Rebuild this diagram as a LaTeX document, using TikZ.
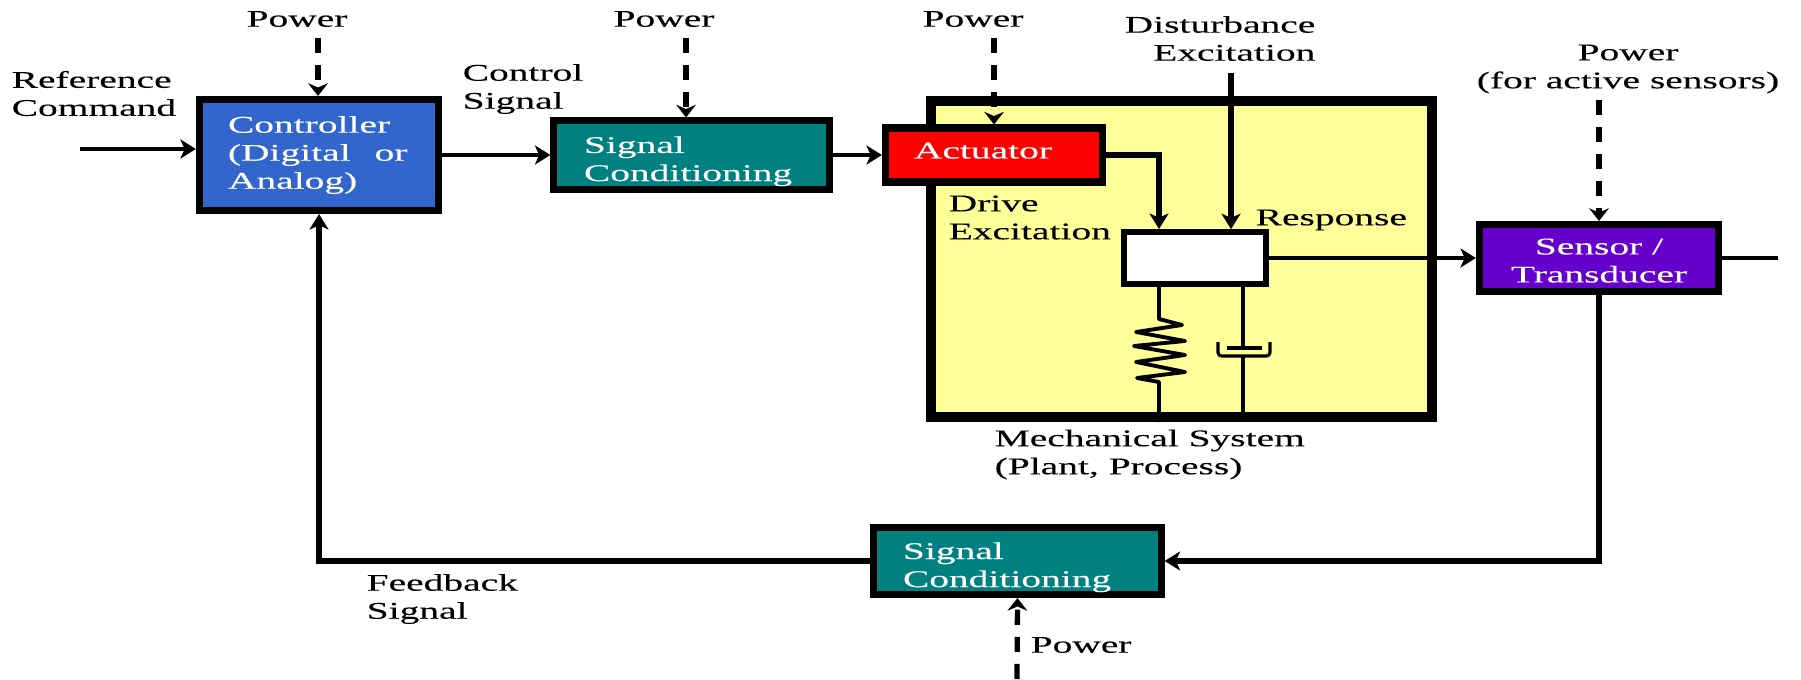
\documentclass[tikz,border=0pt]{standalone}
\usepackage{fontspec}
\setmainfont[FakeStretch=1.65,FakeBold=0.15]{Liberation Serif}
\usetikzlibrary{arrows.meta}
\tikzset{
  lbl/.style={inner sep=0pt,align=left,font=\fontsize{6.8}{7.97}\selectfont},
  block/.style={draw,line width=2pt,rectangle,text=white,align=left,inner sep=0pt,font=\fontsize{6.8}{7.97}\selectfont},
  sig/.style={line width=1.1pt,-{Stealth[length=4.4pt,width=5.4pt,inset=1.2pt]}},
  power/.style={line width=1.5pt,dash pattern=on 4.3pt off 3.4pt,-{Stealth[length=3.6pt,width=5.6pt,inset=1.2pt]}},
}
\definecolor{ctrlblue}{HTML}{3366CC}
\definecolor{teal}{HTML}{008080}
\definecolor{plantyellow}{HTML}{FFFF99}
\definecolor{sensorpurple}{HTML}{6600CC}
\begin{document}
\begin{tikzpicture}[x=0.01cm,y=-0.01cm]
    \useasboundingbox (0,0) rectangle (1801,679);

    \node[draw,line width=2.85pt,rectangle,fill=plantyellow,minimum width=5.01cm,minimum height=3.16cm,inner sep=0pt] (plant) at (1181.5,259) {};
    \node[block,fill=ctrlblue,minimum width=2.39cm,minimum height=1.11cm,text width=1.82cm] (controller) at (319,155) {Controller\\(Digital~~~or\\Analog)};
    \node[block,fill=teal,minimum width=2.75cm,minimum height=0.68cm,text width=2.15cm] (signalfwd) at (691.5,155) {\rule{0pt}{8.3pt}Signal\\Conditioning};
    \node[block,fill=red,minimum width=2.17cm,minimum height=0.54cm,text width=1.6cm] (actuator) at (994,155) {Actuator\rule[-2.5pt]{0pt}{1pt}};
    \node[block,line width=1.6pt,fill=white,minimum width=1.42cm,minimum height=0.52cm] (mass) at (1195,258) {};
    \node[block,fill=sensorpurple,minimum width=2.39cm,minimum height=0.67cm,align=center] (sensor) at (1599,258) {\rule{0pt}{6pt}Sensor /\\Transducer};
    \node[block,fill=teal,minimum width=2.87cm,minimum height=0.67cm,text width=2.29cm] (signalback) at (1017.5,561) {\rule{0pt}{8.3pt}Signal\\Conditioning};

    \coordinate (pwrcontroller) at (318,38);
    \coordinate (pwrsignal) at (686,38);
    \coordinate (pwractuator) at (994,38);
    \coordinate (pwrsensor) at (1599,100);
    \coordinate (pwrback) at (1017,679);
    \coordinate (refin) at (80,149);
    \coordinate (drivein) at (1159,229);
    \coordinate (disturbin) at (1231,73);
    \coordinate (sensorout) at (1778,258);
    \coordinate (springtop) at (1159,319);
    \coordinate (springend) at (1159,382);
    \coordinate (dampertop) at (1243,348);
    \coordinate (damperend) at (1243,356);

    \draw[power] (pwrcontroller) -- (pwrcontroller |- controller.north);
    \draw[power] (pwrsignal) -- (pwrsignal |- signalfwd.north);
    \draw[power] (pwractuator) -- (actuator.north);
    \draw[power] (pwrsensor) -- (sensor.north);
    \draw[power] (pwrback) -- (signalback.south);

    \draw[sig] (refin) -- (refin -| controller.west);
    \draw[sig] (controller) -- (signalfwd);
    \draw[sig] (signalfwd) -- (actuator);
    \draw[sig,line width=1.5pt] (actuator) -| (drivein);
    \draw[sig,line width=1.5pt] (disturbin) -- (disturbin |- mass.north);
    \draw[sig,line width=0.9pt] (mass) -- (sensor);
    \draw[line width=1.1pt] (sensor) -- (sensorout);
    \draw[sig,line width=1.6pt] (sensor) |- (signalback);
    \draw[sig,line width=1.6pt] (signalback) -| (controller);

    \draw[line width=1.1pt,line join=round] (mass.south -| springtop) -- (springtop) -- (1182,325) -- (1136,332) -- (1185,341) -- (1134,346) -- (1185,355) -- (1136,362) -- (1185,372) -- (1137,378) -- (springend) -- (springend |- plant.south);
    \draw[line width=0.9pt] (mass.south -| dampertop) -- (dampertop);
    \draw[line width=0.9pt] (1227,348) -- (1262,348);
    \draw[line width=0.9pt,rounded corners=1pt] (1218,342) -- (1218,356) -- (1270,356) -- (1270,342);
    \draw[line width=0.9pt] (damperend) -- (damperend |- plant.south);

    \node[lbl] (lblpower1) at (297,19) {Power};
    \node[lbl] (lblpower2) at (664,19) {Power};
    \node[lbl] (lblpower3) at (973,19) {Power};
    \node[lbl,align=right,anchor=east] (lbldisturb) at (1316,38.5) {Disturbance\\Excitation};
    \node[lbl,align=center] (lblpower4) at (1628,69) {Power\\(for active sensors)};
    \node[lbl,anchor=west] (lblref) at (11,93.5) {Reference\\Command};
    \node[lbl,anchor=west] (lblcontrol) at (462,89) {Control\\Signal};
    \node[lbl,anchor=west] (lbldrive) at (948,217.5) {Drive\\Excitation};
    \node[lbl,anchor=west] (lblresponse) at (1255,220) {Response};
    \node[lbl,anchor=west] (lblplant) at (994,454.5) {Mechanical System\\(Plant, Process)};
    \node[lbl,anchor=west] (lblfeedback) at (366,599) {Feedback\\Signal};
    \node[lbl,anchor=west] (lblpower5) at (1030,645) {Power};
\end{tikzpicture}
\end{document}
